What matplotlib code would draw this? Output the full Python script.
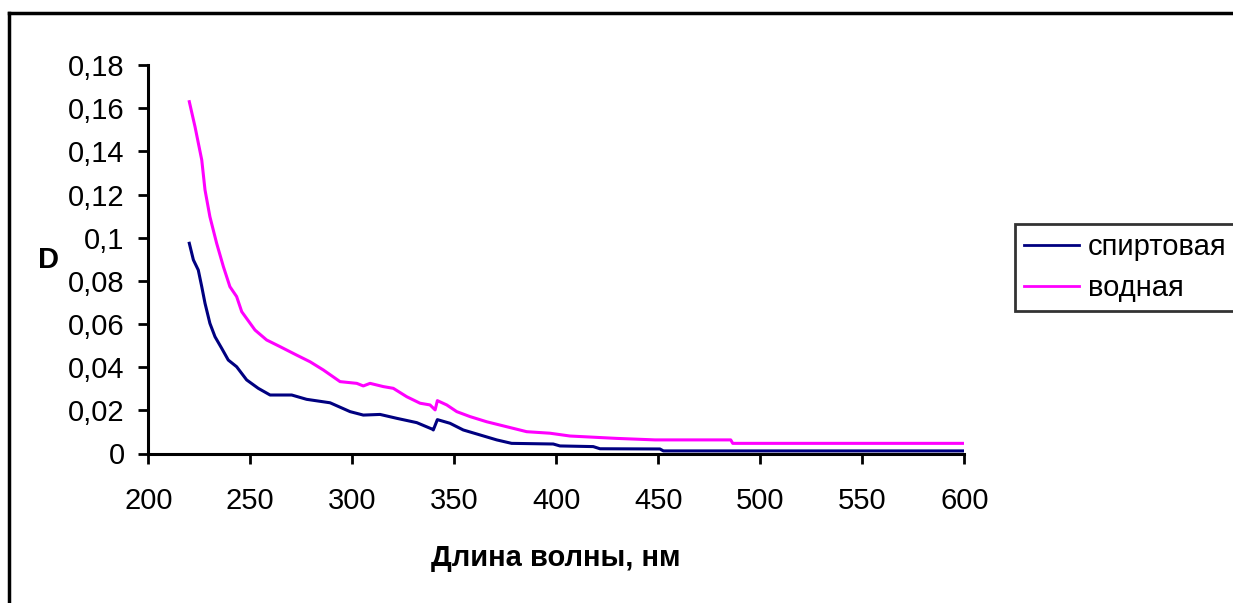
import matplotlib
matplotlib.use("Agg")
import matplotlib.pyplot as plt
from matplotlib.lines import Line2D
from matplotlib.ticker import FuncFormatter

plt.rcParams['font.family'] = ['Liberation Sans', 'DejaVu Sans']

# Data
wl_alc = [220.1, 222.1, 224.5, 226.2, 227.8, 230.2, 232.7, 236.0, 239.2, 243.3,
          248.2, 253.9, 259.7, 270.3, 277.6, 289.1, 298.9, 305.4, 313.6, 321.8,
          331.6, 339.4, 339.7, 341.7, 347.9, 354.4, 362.6, 370.8, 378.1, 398.5,
          401.8, 418.1, 421.4, 450.8, 452.5, 600.0]
d_alc = [0.0974, 0.0897, 0.0850, 0.0773, 0.0696, 0.0603, 0.0541, 0.0487, 0.0433, 0.0402,
         0.0341, 0.0302, 0.0271, 0.0271, 0.0251, 0.0235, 0.0194, 0.0178, 0.0181, 0.0163,
         0.0143, 0.0112, 0.0109, 0.0157, 0.0140, 0.0109, 0.0086, 0.0063, 0.0047, 0.0044,
         0.0035, 0.0032, 0.0022, 0.0021, 0.0012, 0.0012]

wl_aq = [220.1, 222.9, 226.2, 227.8, 230.2, 233.5, 236.8, 240.0, 243.3, 245.8,
         252.3, 258.0, 264.6, 272.7, 279.3, 285.8, 294.0, 302.2, 305.4, 308.7,
         315.2, 320.1, 326.7, 333.2, 338.1, 340.6, 341.7, 346.3, 351.2, 357.7,
         365.9, 375.7, 385.5, 396.9, 406.7, 429.6, 448.4, 485.5, 486.5, 600.0]
d_aq = [0.1630, 0.1514, 0.1360, 0.1221, 0.1097, 0.0974, 0.0866, 0.0773, 0.0727, 0.0657,
        0.0572, 0.0526, 0.0495, 0.0456, 0.0425, 0.0387, 0.0333, 0.0325, 0.0313, 0.0325,
        0.0310, 0.0302, 0.0263, 0.0233, 0.0225, 0.0202, 0.0245, 0.0225, 0.0194, 0.0171,
        0.0147, 0.0124, 0.0101, 0.0094, 0.0081, 0.0070, 0.0063, 0.0063, 0.0047, 0.0047]

series_names = ['спиртовая', 'водная']
x_ticks = [200, 250, 300, 350, 400, 450, 500, 550, 600]
y_ticks = [0, 0.02, 0.04, 0.06, 0.08, 0.1, 0.12, 0.14, 0.16, 0.18]
x_label = 'Длина волны, нм'
y_label = 'D'

W, H = 1233, 603
fig = plt.figure(figsize=(W / 100, H / 100), dpi=100)
ax = fig.add_axes([148.3 / W, 1 - 453.5 / H, (964.3 - 148.3) / W, (453.5 - 65) / H])

l1, = ax.plot(wl_alc, d_alc, color='#000080', lw=2.2, label=series_names[0])
l2, = ax.plot(wl_aq, d_aq, color='#FF00FF', lw=2.2, label=series_names[1])

ax.set_xlim(200, 600)
ax.set_ylim(0, 0.18)
ax.set_xticks(x_ticks)
ax.set_yticks(y_ticks)
ax.yaxis.set_major_formatter(FuncFormatter(lambda v, p: ('%g' % round(v, 2)).replace('.', ',')))
ax.tick_params(axis='both', labelsize=21, width=2, length=7, color='black', direction='out')
ax.tick_params(axis='x', pad=17)
ax.tick_params(axis='y', pad=10)
for s in ['top', 'right']:
    ax.spines[s].set_visible(False)
for s in ['left', 'bottom']:
    ax.spines[s].set_linewidth(2.2)

fig.text(556 / W, 1 - 558 / H, x_label, fontsize=21, fontweight='bold', ha='center', va='center')
fig.text(48 / W, 1 - 260 / H, y_label, fontsize=21, fontweight='bold', ha='center', va='center')

leg = fig.legend(handles=[l1, l2], loc='upper left',
                 bbox_to_anchor=(1015 / W, 1 - 224 / H), fontsize=21,
                 frameon=True, fancybox=False, edgecolor='black',
                 handlelength=1.9, handletextpad=0.3, borderpad=0.3,
                 labelspacing=0.45, borderaxespad=0)
leg.get_frame().set_linewidth(2)
for h in leg.get_lines():
    h.set_linewidth(2)

# outer chart border (top and left visible)
fig.add_artist(Line2D([9 / W, 1.0], [1 - 13 / H, 1 - 13 / H], color='black', lw=2.5, transform=fig.transFigure))
fig.add_artist(Line2D([9 / W, 9 / W], [1 - 13 / H, 0], color='black', lw=2.5, transform=fig.transFigure))

fig.savefig('out.png', dpi=100)
